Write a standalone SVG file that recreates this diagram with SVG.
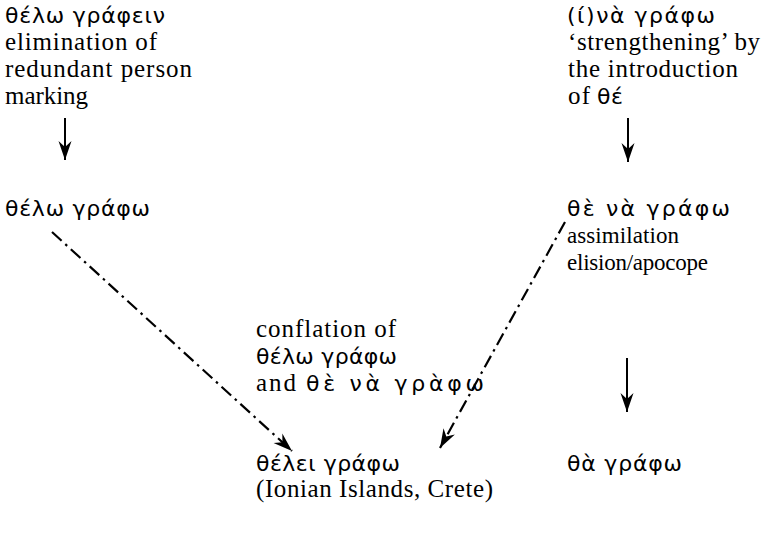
<svg xmlns="http://www.w3.org/2000/svg" width="767" height="543" viewBox="0 0 767 543">
<defs>
<marker id="ah" markerUnits="userSpaceOnUse" markerWidth="22" markerHeight="16" refX="0" refY="0" viewBox="-20 -8 21 16" orient="auto">
<path d="M0,0 L-19,-6.5 L-13,0 L-19,6.5 Z" fill="#000"/>
</marker>
<style>
.en{font-family:"Liberation Serif","Times New Roman",serif;font-size:25px;fill:#000}
.sm{font-size:23px}
.gr{font-family:"DejaVu Sans","Liberation Sans",sans-serif;font-size:22px;fill:#000}
.ar{stroke:#000;stroke-width:2;fill:none;marker-end:url(#ah)}
.dd{stroke:#000;stroke-width:2.2;fill:none;stroke-dasharray:13 5 2.5 5;marker-end:url(#ah)}
</style>
</defs>
<rect width="767" height="543" fill="#fff"/>
<g id="n1">
<text class="gr" x="5" y="23" textLength="160" lengthAdjust="spacing">θέλω γράφειν</text>
<text class="en" x="5" y="50" textLength="152" lengthAdjust="spacing">elimination of</text>
<text class="en" x="5" y="77" textLength="187" lengthAdjust="spacing">redundant person</text>
<text class="en" x="5" y="104" textLength="83" lengthAdjust="spacing">marking</text>
</g>
<g id="n2">
<text class="gr" x="5" y="216" textLength="145" lengthAdjust="spacing">θέλω γράφω</text>
</g>
<g id="n3">
<text class="gr" x="567" y="23" textLength="148" lengthAdjust="spacing">(ί)νὰ γράφω</text>
<text class="en" x="568" y="50" textLength="192" lengthAdjust="spacing">‘strengthening’ by</text>
<text class="en" x="568" y="77" textLength="170" lengthAdjust="spacing">the introduction</text>
<text class="en" x="568" y="104" textLength="22" lengthAdjust="spacing">of</text>
<text class="gr" x="597" y="104" textLength="26" lengthAdjust="spacing">θέ</text>
</g>
<g id="n4">
<text class="gr" x="567" y="216" textLength="163" lengthAdjust="spacing">θὲ νὰ γράφω</text>
<text class="en sm" x="567" y="243" textLength="112" lengthAdjust="spacing">assimilation</text>
<text class="en sm" x="567" y="270" textLength="141" lengthAdjust="spacing">elision/apocope</text>
</g>
<g id="n5">
<text class="gr" x="567" y="471" textLength="115" lengthAdjust="spacing">θὰ γράφω</text>
</g>
<g id="n6">
<text class="en" x="256" y="337" textLength="140" lengthAdjust="spacing">conflation of</text>
<text class="gr" x="256" y="364" textLength="141" lengthAdjust="spacing">θέλω γράφω</text>
<text class="en" x="256" y="391" textLength="40" lengthAdjust="spacing">and</text>
<text class="gr" x="306" y="391" textLength="178" lengthAdjust="spacing">θὲ νὰ γρὰφω</text>
</g>
<g id="n7">
<text class="gr" x="256" y="471" textLength="144" lengthAdjust="spacing">θέλει γράφω</text>
<text class="en" x="256" y="497" textLength="237" lengthAdjust="spacing">(Ionian Islands, Crete)</text>
</g>
<g id="connectors">
<line class="ar" x1="65" y1="118" x2="65" y2="160"/>
<line class="ar" x1="628" y1="118" x2="628" y2="162"/>
<line class="ar" x1="627" y1="358" x2="627" y2="412"/>
<line class="dd" x1="52" y1="232" x2="292" y2="451"/>
<line class="dd" x1="565" y1="222" x2="440" y2="448"/>
</g>
</svg>
